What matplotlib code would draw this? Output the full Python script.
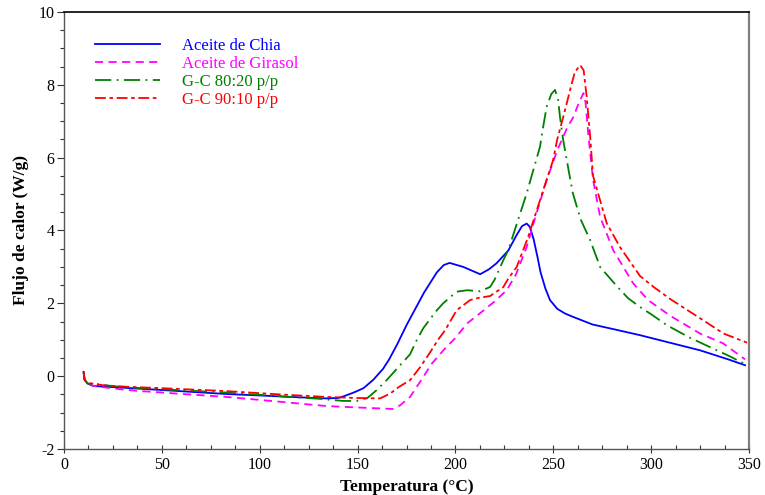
import numpy as np
import matplotlib
matplotlib.use("Agg")
import matplotlib.pyplot as plt
from matplotlib.ticker import MultipleLocator

# DSC thermograms: heat flow vs temperature
chia_t = [10, 10.5, 12, 15, 25, 50, 83, 100, 120, 134, 140, 143, 148, 153, 158, 163, 166,
          170, 175, 180, 184, 190.5, 194, 197, 204, 212.6, 217, 221, 227, 231, 234, 236.4,
          238, 240, 242, 243.5, 246, 248.3, 252, 256, 260, 270, 280, 294, 308, 325, 340, 348]
chia_q = [0.12, -0.1, -0.2, -0.27, -0.3, -0.38, -0.49, -0.53, -0.58, -0.61, -0.6, -0.55, -0.45,
          -0.33, -0.1, 0.2, 0.45, 0.85, 1.4, 1.9, 2.3, 2.85, 3.05, 3.11, 3.0, 2.8, 2.93, 3.1,
          3.45, 3.85, 4.12, 4.19, 4.1, 3.75, 3.25, 2.85, 2.4, 2.09, 1.85, 1.72, 1.63, 1.42, 1.3,
          1.13, 0.94, 0.71, 0.45, 0.3]

girasol_t = [10, 10.5, 12, 15, 32, 50, 83, 110, 134, 150, 168, 171.7, 176.8, 182, 188, 194,
             199.8, 206, 212.6, 220, 226.2, 231, 236.4, 241, 246.6, 252, 256.9, 260.3, 263,
             265.4, 266.5, 268, 270.3, 273.9, 280.6, 290.8, 298.4, 310, 325, 336.8, 348]
girasol_q = [0.1, -0.1, -0.2, -0.27, -0.38, -0.45, -0.57, -0.7, -0.82, -0.86, -0.9, -0.8, -0.57,
             -0.15, 0.35, 0.72, 1.04, 1.45, 1.73, 2.05, 2.36, 2.8, 3.55, 4.4, 5.38, 6.2, 6.8,
             7.12, 7.5, 7.77, 7.5, 6.57, 5.4, 4.38, 3.46, 2.55, 2.09, 1.65, 1.17, 0.9, 0.46]

gc80_t = [10, 10.5, 12, 16, 30, 50, 83, 110, 130, 142.6, 149.6, 155, 159.8, 165, 170, 176.8,
          180.2, 183.6, 190, 193.7, 200.6, 206, 212.6, 217.7, 220, 224.5, 227, 230, 236.4,
          243.2, 245, 246.6, 249, 250.9, 252.5, 253.4, 255, 258, 260, 264, 268.8, 273.9, 282,
          288.2, 294.3, 300, 308, 320, 330, 340, 348]
gc80_q = [0.1, -0.1, -0.2, -0.22, -0.3, -0.36, -0.45, -0.55, -0.62, -0.68, -0.68, -0.6, -0.38,
          -0.1, 0.2, 0.6, 0.99, 1.32, 1.78, 2.0, 2.32, 2.36, 2.33, 2.45, 2.65, 3.19, 3.46,
          3.96, 5.02, 6.3, 6.9, 7.4, 7.75, 7.86, 7.58, 7.12, 6.5, 5.6, 5.02, 4.3, 3.74, 3.0,
          2.5, 2.14, 1.9, 1.7, 1.4, 1.05, 0.8, 0.55, 0.33]

gc90_t = [10, 10.5, 12, 20, 32, 50, 83, 110, 134, 150, 161.5, 166.6, 171, 176.8, 182, 187,
          191, 194.7, 200.6, 207.5, 212, 217.7, 224.5, 227, 231.3, 237, 243.2, 246, 249.9,
          252, 255, 258.6, 261, 263.7, 265.5, 267, 268.8, 270.3, 273.9, 277.3, 284, 294.3,
          302, 309.7, 325, 337, 349]
gc90_q = [0.12, -0.1, -0.18, -0.25, -0.29, -0.33, -0.41, -0.5, -0.57, -0.6, -0.61, -0.48, -0.3,
          -0.11, 0.25, 0.65, 0.99, 1.26, 1.81, 2.09, 2.15, 2.2, 2.45, 2.68, 3.0, 3.8, 4.83, 5.3,
          5.93, 6.5, 7.1, 7.86, 8.35, 8.54, 8.4, 7.7, 6.6, 5.5, 4.83, 4.2, 3.55, 2.75, 2.42,
          2.12, 1.59, 1.17, 0.92]

series_labels = ["Aceite de Chia", "Aceite de Girasol", "G-C 80:20 p/p", "G-C 90:10 p/p"]
series_colors = ["#0000ff", "#ff00ff", "#007f00", "#ff0000"]

plt.rcParams["font.family"] = ["Liberation Serif", "DejaVu Serif"]
plt.rcParams["font.size"] = 11
plt.rcParams["axes.unicode_minus"] = False

fig = plt.figure(figsize=(7.65, 4.95), dpi=100)
ax = fig.add_axes([0.0837, 0.0929, 0.8954, 0.8829])

styles = ["-", (0, (4.5, 3)), (0, (9, 3, 1, 3)), (0, (6, 2, 2, 2))]
data = [(chia_t, chia_q), (girasol_t, girasol_q), (gc80_t, gc80_q), (gc90_t, gc90_q)]
for (t, q), lab, col, ls in zip(data, series_labels, series_colors, styles):
    ax.plot(t, q, color=col, lw=1.3, ls=ls, label=lab)

ax.set_xlim(0, 350)
ax.set_ylim(-2, 10)
ax.xaxis.set_major_locator(MultipleLocator(50))
ax.xaxis.set_minor_locator(MultipleLocator(12.5))
ax.yaxis.set_major_locator(MultipleLocator(2))
ax.yaxis.set_minor_locator(MultipleLocator(0.5))
ax.tick_params(axis="x", which="major", direction="inout", length=6, width=0.8, colors="#333333",
               labelcolor="black", pad=3, labelsize=11.5)
ax.tick_params(axis="x", which="minor", direction="in", length=3, width=0.8, colors="#333333")
ax.tick_params(axis="y", which="major", direction="out", length=5, width=0.8, colors="#333333",
               labelcolor="black", pad=2, labelsize=11.5)
ax.tick_params(axis="y", which="minor", direction="out", length=3, width=0.8, colors="#333333")

for side, col, lw in [("left", "#555555", 1.0), ("bottom", "#555555", 1.0),
                      ("top", "black", 1.2), ("right", "#808080", 1.6)]:
    ax.spines[side].set_color(col)
    ax.spines[side].set_linewidth(lw)

ax.set_xlabel("Temperatura (°C)", fontweight="bold", fontsize=12.5, labelpad=4)
ax.set_ylabel("Flujo de calor (W/g)", fontweight="bold", fontsize=12.5, labelpad=7)

leg = ax.legend(loc="upper left", bbox_to_anchor=(0.045, 0.94), frameon=False,
                borderaxespad=0, borderpad=0, handlelength=3.9, handletextpad=1.3,
                labelspacing=0.12, fontsize=12)
for txt, col in zip(leg.get_texts(), series_colors):
    txt.set_color(col)

fig.savefig("out.png", dpi=100)
